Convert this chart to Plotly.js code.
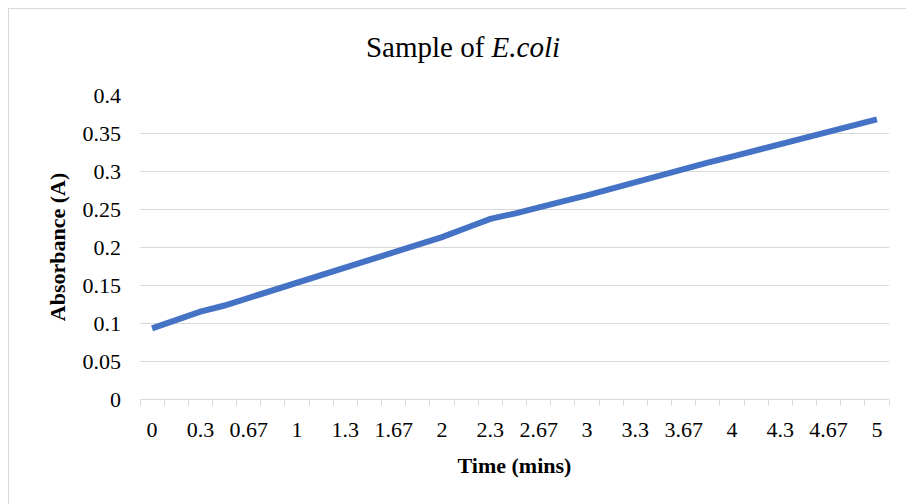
<!DOCTYPE html>
<html>
<head>
<meta charset="utf-8">
<script src="https://cdn.plot.ly/plotly-3.0.1.min.js"></script>
<style>html,body{margin:0;padding:0;background:#fff;}#chart{width:906px;height:504px;}</style>
</head>
<body>
<div id="chart"></div>
<script>
// Time (mins) categories
const timeLabels = ["0","0.17","0.3","0.5","0.67","0.83","1","1.17","1.3","1.5","1.67","1.83","2","2.17","2.3","2.5","2.67","2.83","3","3.17","3.3","3.5","3.67","3.83","4","4.17","4.3","4.5","4.67","4.83","5"];
// Absorbance (A)
const absorbance = [0.093,0.104,0.115,0.123,0.133,0.143,0.152,0.162,0.174,0.182,0.192,0.202,0.213,0.225,0.237,0.244,0.251,0.260,0.268,0.277,0.286,0.295,0.303,0.311,0.319,0.327,0.335,0.344,0.352,0.360,0.368];
// y-axis ticks
const yTicks = [0,0.05,0.1,0.15,0.2,0.25,0.3,0.35,0.4];
const yTickText = ["0","0.05","0.1","0.15","0.2","0.25","0.3","0.35","0.4"];

const W = 906, H = 504;
const M = {l:140, r:17, t:95, b:105};
const pw = W - M.l - M.r, ph = H - M.t - M.b;
const px2x = p => (p - M.l) / pw;
const py2y = p => 1 - (p - M.t) / ph;

const serif = "Liberation Serif";
const grid = "#d9d9d9";

const trace = {
  x: timeLabels,
  y: absorbance,
  type: "scatter",
  mode: "lines",
  line: {color: "#4472C4", width: 6},
  hoverinfo: "x+y"
};

const layout = {
  width: W, height: H,
  margin: M,
  paper_bgcolor: "#fff", plot_bgcolor: "#fff",
  showlegend: false,
  font: {family: serif, color: "#000", size: 22},
  title: {
    text: "Sample of <i>E.coli</i>",
    font: {family: serif, size: 29, color: "#000"},
    xref: "container", x: 463 / W, xanchor: "center",
    yref: "container", y: 1 - 47 / H, yanchor: "middle"
  },
  xaxis: {
    type: "category",
    categoryorder: "array",
    categoryarray: timeLabels,
    range: [-0.5, timeLabels.length - 0.5],
    tickmode: "array",
    tickvals: timeLabels,
    ticktext: timeLabels.map((t, i) => (i % 2 === 0 ? t : "")),
    tickangle: 0,
    tickson: "boundaries",
    ticks: "outside", ticklen: 6, tickcolor: grid, tickwidth: 1,
    showline: true, linecolor: grid, linewidth: 1,
    showgrid: false, zeroline: false,
    tickfont: {family: serif, size: 22, color: "#000"},
    ticklabelstandoff: 11,
    title: {text: "<b>Time (mins)</b>", font: {family: serif, size: 22, color: "#000"}, standoff: 16}
  },
  yaxis: {
    range: [0, 0.4],
    tickmode: "array",
    tickvals: yTicks,
    ticktext: yTickText,
    showgrid: true, gridcolor: grid, gridwidth: 1,
    zeroline: false, showline: false, ticks: "",
    tickfont: {family: serif, size: 22, color: "#000"},
    ticklabelstandoff: 18,
    title: {text: "<b>Absorbance (A)</b>", font: {family: serif, size: 22, color: "#000"}, standoff: 10}
  },
  shapes: [
    {type: "line", xref: "paper", yref: "paper", x0: px2x(8), x1: px2x(W + 10), y0: py2y(8.5), y1: py2y(8.5), line: {color: grid, width: 1}},
    {type: "line", xref: "paper", yref: "paper", x0: px2x(8.5), x1: px2x(8.5), y0: py2y(8), y1: py2y(H + 10), line: {color: grid, width: 1}}
  ]
};

Plotly.newPlot("chart", [trace], layout, {displayModeBar: false, staticPlot: true});
</script>
</body>
</html>
